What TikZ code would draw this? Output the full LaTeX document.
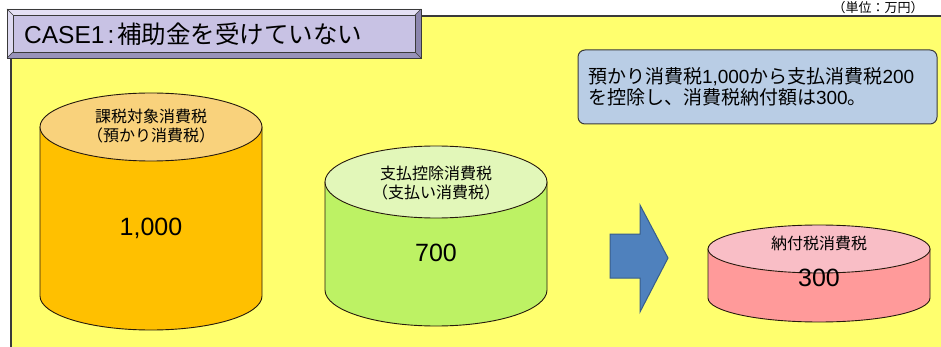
\documentclass[tikz,border=0pt]{standalone}
\usepackage{fontspec}
\setmainfont{Liberation Sans}
\newfontfamily\jp{Noto Sans CJK JP}
\definecolor{panelyellow}{HTML}{FFFF6E}
\definecolor{edgegray}{HTML}{3A3A3A}
\definecolor{titleface}{HTML}{C8C2E4}
\definecolor{titlelight}{HTML}{E4E0F4}
\definecolor{titledark}{HTML}{8C86AE}
\definecolor{notefill}{HTML}{B9CDE5}
\definecolor{orangebody}{HTML}{FFC000}
\definecolor{orangetop}{HTML}{F9D27C}
\definecolor{greenbody}{HTML}{BDF264}
\definecolor{greentop}{HTML}{E2F7B9}
\definecolor{pinkbody}{HTML}{FF9A9A}
\definecolor{pinktop}{HTML}{F9BEC6}
\definecolor{arrowblue}{HTML}{4F81BD}
\definecolor{arrowedge}{HTML}{385D8A}
\tikzset{
  cylline/.style={draw=black!80!brown, line width=0.9pt},
  cyllabel/.style={font=\fontsize{16}{19}\selectfont\jp, align=center, inner sep=0pt},
  cylvalue/.style={font=\fontsize{25}{28}\selectfont, inner sep=0pt},
  notebox/.style={draw=edgegray, line width=1pt, fill=notefill, rounded corners=7pt,
    text width=339pt, inner xsep=10pt, minimum height=74pt, align=left,
    font=\fontsize{19}{20.5}\selectfont},
}
\newcommand\drawcyl[7]{%
  \draw[cylline, fill=#6] (#1-#4,-#2) -- (#1-#4,-#3)
     arc[start angle=180, end angle=360, x radius=#4pt, y radius=#5pt]
     -- (#1+#4,-#2) -- cycle;
  \draw[cylline, fill=#7] (#1,-#2) ellipse [x radius=#4pt, y radius=#5pt];
}
\begin{document}
\begin{tikzpicture}[x=1pt, y=1pt]
\useasboundingbox (0,0) rectangle (941,-347);
\fill[white] (0,0) rectangle (941,-347);
% panel
\fill[panelyellow] (11,-16) rectangle (950,-355);
\draw[edgegray, line width=1.8pt] (11,-355) -- (11,-16) -- (950,-16);
% title bevel box
\fill[titlelight] (7,-9) -- (421,-9) -- (415,-15) -- (13,-15) -- cycle;
\fill[titlelight!80!titleface] (7,-9) -- (13,-15) -- (13,-52) -- (7,-58) -- cycle;
\fill[titledark] (421,-9) -- (421,-58) -- (415,-52) -- (415,-15) -- cycle;
\fill[titledark!80!titleface] (7,-58) -- (421,-58) -- (415,-52) -- (13,-52) -- cycle;
\fill[titleface] (13,-15) rectangle (415,-52);
\draw[edgegray, line width=0.9pt] (7,-9) rectangle (421,-58);
\draw[edgegray, line width=0.5pt] (13,-15) rectangle (415,-52);
\draw[edgegray, line width=0.4pt] (7,-9) -- (13,-15) (421,-9) -- (415,-15)
  (7,-58) -- (13,-52) (421,-58) -- (415,-52);
\node[anchor=west, inner sep=0pt, font=\fontsize{24.5}{26}\selectfont] (title) at (24,-34)
  {CASE1\kern3pt:\kern3pt{\jp 補助金を受けていない}};
% unit
\node[inner sep=0pt, font=\fontsize{13}{14}\selectfont\jp] (unit) at (878,-7.5) {（単位：万円）};
% note box
\node[notebox] (note) at (757.5,-87)
  {{\jp 預かり消費税}1,000{\jp から支払消費税}200\\{\jp を控除し、消費税納付額は}300{\jp 。}};
% cylinder 1
\drawcyl{151}{127}{296}{111}{34}{orangebody}{orangetop}
\node[cyllabel] (c1lab) at (151,-126) {課税対象消費税\\（預かり消費税）};
\node[cylvalue] (c1val) at (151,-228) {1,000};
% cylinder 2
\drawcyl{436}{182}{290}{111}{36}{greenbody}{greentop}
\node[cyllabel] (c2lab) at (436,-183) {支払控除消費税\\（支払い消費税）};
\node[cylvalue] (c2val) at (436,-253) {700};
% arrow
\draw[fill=arrowblue, draw=arrowedge, line width=1pt, line join=miter]
  (610,-234) -- (640,-234) -- (640,-205) -- (668,-258) -- (640,-312) -- (640,-278) -- (610,-278) -- cycle;
% cylinder 3
\drawcyl{819}{249}{298}{111}{24}{pinkbody}{pinktop}
\node[cyllabel] (c3lab) at (819,-243) {納付税消費税};
\node[cylvalue] (c3val) at (819,-278) {300};
\end{tikzpicture}
\end{document}
